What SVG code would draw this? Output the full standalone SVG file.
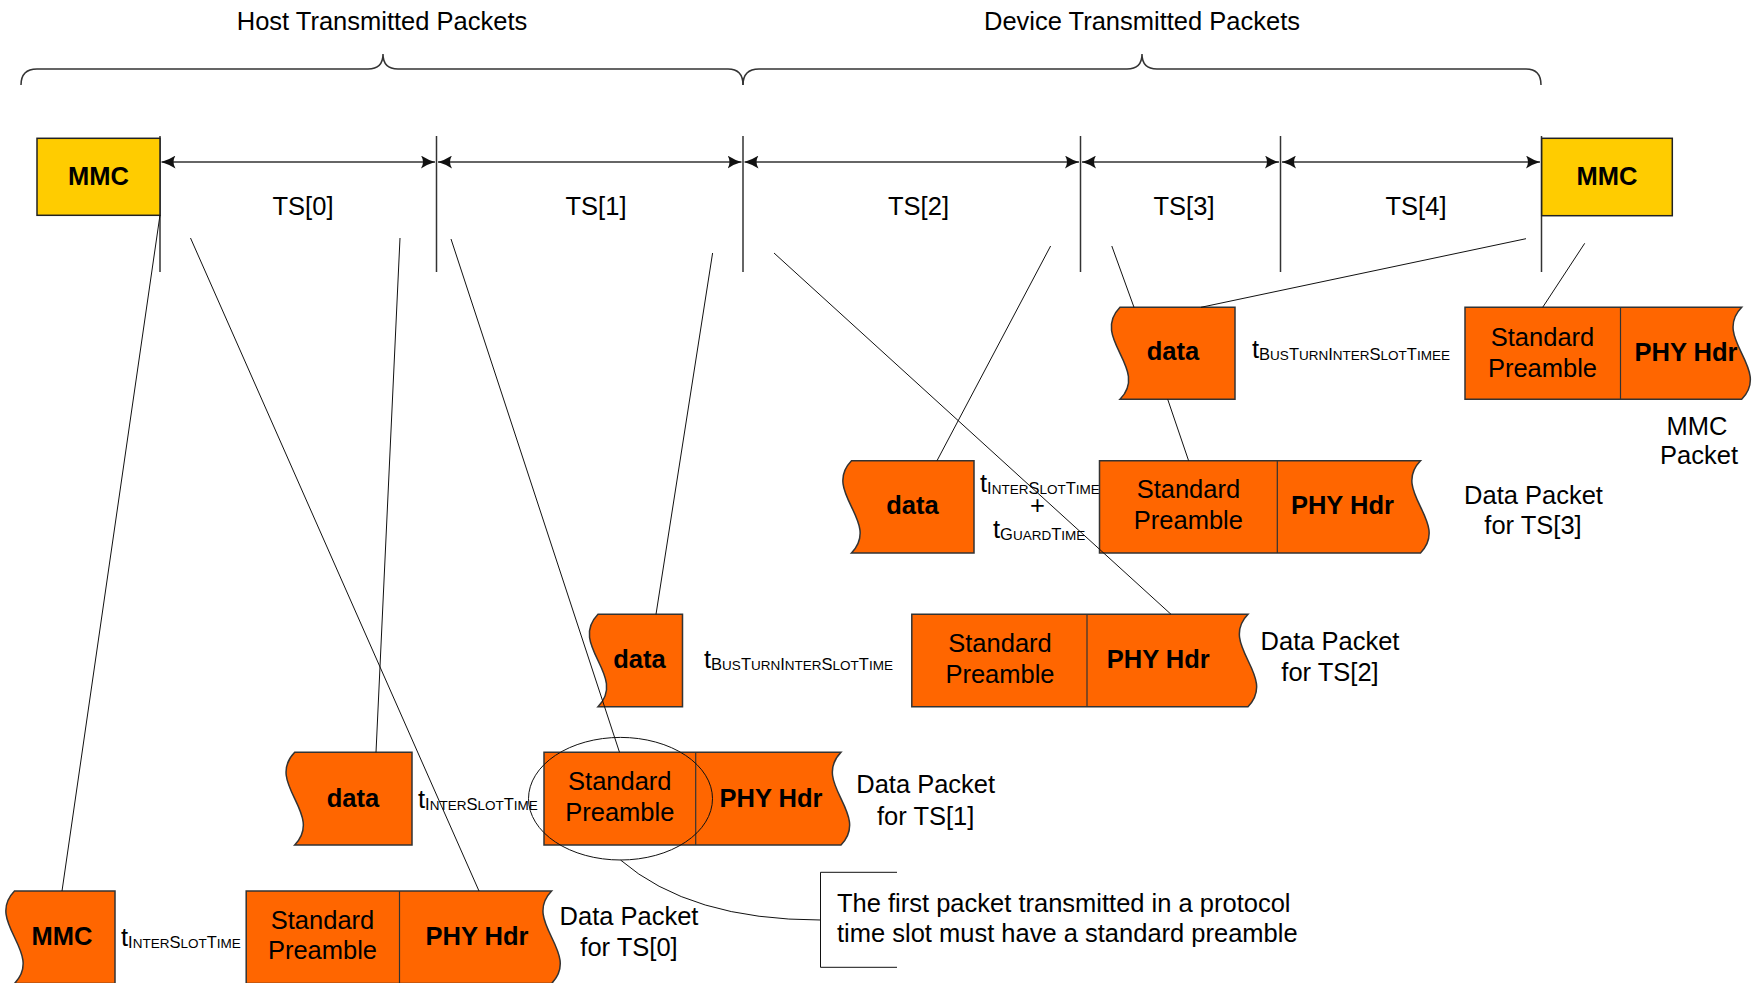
<svg xmlns="http://www.w3.org/2000/svg" width="1755" height="983" viewBox="0 0 1755 983">
<defs>
<style>
text{font-family:"Liberation Sans",Arial,sans-serif;fill:#000}
.n{font-size:25.5px}
.b{font-size:25.5px;font-weight:bold}
.m{text-anchor:middle}
.cb{font-size:16.5px}
.cs{font-size:13.5px}
.pk{fill:#FF6600;stroke:#333;stroke-width:1.5}
.mmc{fill:#FFCC00;stroke:#222;stroke-width:1.5}
.dv{stroke:#333;stroke-width:1.2;fill:none}
.tick{stroke:#333;stroke-width:1.5;fill:none}
.arr{stroke:#333;stroke-width:1.5;fill:none;marker-start:url(#ah);marker-end:url(#ah)}
.br{stroke:#333;stroke-width:1.5;fill:none}
.cn{stroke:#111;stroke-width:1;fill:none}
</style>
<marker id="ah" viewBox="0 0 14 13" refX="14" refY="6.5" markerWidth="14" markerHeight="13" markerUnits="userSpaceOnUse" orient="auto-start-reverse">
<path d="M14,6.5 Q7,4.5 0,0 Q4,6.5 0,13 Q7,8.5 14,6.5 Z" fill="#111"/>
</marker>
</defs>
<rect width="1755" height="983" fill="#fff"/>

<g id="headers">
<text class="n m" x="382" y="29.5">Host Transmitted Packets</text>
<text class="n m" x="1142" y="29.5">Device Transmitted Packets</text>
<path class="br" d="M21,85 Q21,69 37,69 L368,69 Q383,69 383,54 Q383,69 398,69 L728,69 Q743,69 743,85"/>
<path class="br" d="M743,85 Q743,69 759,69 L1127,69 Q1142,69 1142,54 Q1142,69 1157,69 L1526,69 Q1541,69 1541,85"/>
</g>

<g id="timeline">
<line class="tick" x1="160" y1="136" x2="160" y2="272"/>
<line class="tick" x1="436.5" y1="136" x2="436.5" y2="272"/>
<line class="tick" x1="743" y1="136" x2="743" y2="272"/>
<line class="tick" x1="1080.5" y1="136" x2="1080.5" y2="272"/>
<line class="tick" x1="1280.5" y1="136" x2="1280.5" y2="272"/>
<line class="tick" x1="1541.5" y1="136" x2="1541.5" y2="272"/>
<line class="arr" x1="161.5" y1="162" x2="435" y2="162"/>
<line class="arr" x1="438" y1="162" x2="741.5" y2="162"/>
<line class="arr" x1="744.5" y1="162" x2="1079" y2="162"/>
<line class="arr" x1="1082" y1="162" x2="1279" y2="162"/>
<line class="arr" x1="1282" y1="162" x2="1540" y2="162"/>
<text class="n m" x="303" y="215">TS[0]</text>
<text class="n m" x="596" y="215">TS[1]</text>
<text class="n m" x="918.5" y="215">TS[2]</text>
<text class="n m" x="1184" y="215">TS[3]</text>
<text class="n m" x="1416" y="215">TS[4]</text>
</g>

<g id="mmc-top-left">
<rect class="mmc" x="37" y="138.3" width="123" height="77"/>
<text class="b m" x="98.5" y="185">MMC</text>
</g>
<g id="mmc-top-right">
<rect class="mmc" x="1541.7" y="138.3" width="130.6" height="77.4"/>
<text class="b m" x="1607" y="185">MMC</text>
</g>

<g id="ts0-mmc">
<path class="pk" d="M14.5,891 H115 V983.5 H14.5 C44.5,952.7 -15.5,921.8 14.5,891 Z"/>
<text class="b m" x="62" y="945">MMC</text>
</g>
<g id="ts0-gap">
<text class="n" x="121" y="946">t<tspan class="cb" dy="2">I</tspan><tspan class="cs">NTER</tspan><tspan class="cb">S</tspan><tspan class="cs">LOT</tspan><tspan class="cb">T</tspan><tspan class="cs">IME</tspan></text>
</g>
<g id="ts0-packet">
<path class="pk" d="M246.2,891 H551.6 C521.6,921.8 581.6,952.7 551.6,983.5 H246.2 Z"/>
<line class="dv" x1="399.5" y1="891" x2="399.5" y2="983.5"/>
<text class="n m" x="322.5" y="928.5">Standard</text>
<text class="n m" x="322.5" y="959">Preamble</text>
<text class="b m" x="477" y="945">PHY Hdr</text>
<text class="n m" x="629" y="925">Data Packet</text>
<text class="n m" x="629" y="956">for TS[0]</text>
</g>

<g id="ts1-data">
<path class="pk" d="M294.7,752.3 H412 V845 H294.7 C324.7,814.1 264.7,783.2 294.7,752.3 Z"/>
<text class="b m" x="353" y="806.7">data</text>
</g>
<g id="ts1-gap">
<text class="n" x="418" y="808">t<tspan class="cb" dy="2">I</tspan><tspan class="cs">NTER</tspan><tspan class="cb">S</tspan><tspan class="cs">LOT</tspan><tspan class="cb">T</tspan><tspan class="cs">IME</tspan></text>
</g>
<g id="ts1-packet">
<path class="pk" d="M544,752.3 H841 C811,783.2 871,814.1 841,845 H544 Z"/>
<line class="dv" x1="695.7" y1="752.3" x2="695.7" y2="845"/>
<text class="n m" x="619.8" y="790">Standard</text>
<text class="n m" x="619.8" y="820.7">Preamble</text>
<text class="b m" x="771" y="806.7">PHY Hdr</text>
<text class="n m" x="925.7" y="793.3">Data Packet</text>
<text class="n m" x="925.7" y="825">for TS[1]</text>
</g>

<g id="ts2-data">
<path class="pk" d="M598,614.3 H682.5 V706.7 H598 C628,675.9 568,645.1 598,614.3 Z"/>
<text class="b m" x="639.5" y="668.3">data</text>
</g>
<g id="ts2-gap">
<text class="n" x="704" y="668">t<tspan class="cb" dy="2">B</tspan><tspan class="cs">US</tspan><tspan class="cb">T</tspan><tspan class="cs">URN</tspan><tspan class="cb">I</tspan><tspan class="cs">NTER</tspan><tspan class="cb">S</tspan><tspan class="cs">LOT</tspan><tspan class="cb">T</tspan><tspan class="cs">IME</tspan></text>
</g>
<g id="ts2-packet">
<path class="pk" d="M911.8,614.3 H1248 C1218,645.1 1278,675.9 1248,706.7 H911.8 Z"/>
<line class="dv" x1="1087" y1="614.3" x2="1087" y2="706.7"/>
<text class="n m" x="1000" y="651.7">Standard</text>
<text class="n m" x="1000" y="683">Preamble</text>
<text class="b m" x="1158.3" y="668.3">PHY Hdr</text>
<text class="n m" x="1330" y="650">Data Packet</text>
<text class="n m" x="1330" y="681">for TS[2]</text>
</g>

<g id="ts3-data">
<path class="pk" d="M851.5,460.7 H974 V553 H851.5 C881.5,522.2 821.5,491.5 851.5,460.7 Z"/>
<text class="b m" x="912.4" y="514">data</text>
</g>
<g id="ts3-gap">
<text class="n" x="980" y="491.5">t<tspan class="cb" dy="2">I</tspan><tspan class="cs">NTER</tspan><tspan class="cb">S</tspan><tspan class="cs">LOT</tspan><tspan class="cb">T</tspan><tspan class="cs">IME</tspan></text>
<text class="n m" x="1037.5" y="514">+</text>
<text class="n" x="993" y="538">t<tspan class="cb" dy="2">G</tspan><tspan class="cs">UARD</tspan><tspan class="cb">T</tspan><tspan class="cs">IME</tspan></text>
</g>
<g id="ts3-packet">
<path class="pk" d="M1099.5,460.7 H1420.5 C1390.5,491.5 1450.5,522.2 1420.5,553 H1099.5 Z"/>
<line class="dv" x1="1277.3" y1="460.7" x2="1277.3" y2="553"/>
<text class="n m" x="1188.4" y="498.3">Standard</text>
<text class="n m" x="1188.4" y="529.3">Preamble</text>
<text class="b m" x="1342.4" y="514">PHY Hdr</text>
<text class="n m" x="1533.5" y="503.5">Data Packet</text>
<text class="n m" x="1533" y="534">for TS[3]</text>
</g>

<g id="ts4-data">
<path class="pk" d="M1120,307.3 H1235 V399.3 H1120 C1150,368.6 1090,338 1120,307.3 Z"/>
<text class="b m" x="1173" y="360">data</text>
</g>
<g id="ts4-gap">
<text class="n" x="1252" y="358">t<tspan class="cb" dy="2">B</tspan><tspan class="cs">US</tspan><tspan class="cb">T</tspan><tspan class="cs">URN</tspan><tspan class="cb">I</tspan><tspan class="cs">NTER</tspan><tspan class="cb">S</tspan><tspan class="cs">LOT</tspan><tspan class="cb">T</tspan><tspan class="cs">IMEE</tspan></text>
</g>
<g id="mmc-packet">
<path class="pk" d="M1465,307.3 H1741.7 C1711.7,338 1771.7,368.6 1741.7,399.3 H1465 Z"/>
<line class="dv" x1="1620.5" y1="307.3" x2="1620.5" y2="399.3"/>
<text class="n m" x="1542.5" y="346">Standard</text>
<text class="n m" x="1542.5" y="376.7">Preamble</text>
<text class="b m" x="1686" y="360.7">PHY Hdr</text>
<text class="n m" x="1697" y="435">MMC</text>
<text class="n m" x="1699" y="464">Packet</text>
</g>

<g id="connectors">
<line class="cn" x1="160" y1="215" x2="62" y2="891"/>
<line class="cn" x1="190.5" y1="238" x2="479" y2="891"/>
<line class="cn" x1="400" y1="238" x2="376" y2="752.3"/>
<line class="cn" x1="451" y1="239" x2="619.5" y2="752.3"/>
<line class="cn" x1="712.6" y1="253" x2="656" y2="614.3"/>
<line class="cn" x1="774" y1="253" x2="1171" y2="614.3"/>
<line class="cn" x1="1050.6" y1="246" x2="937" y2="460.7"/>
<line class="cn" x1="1111.8" y1="246" x2="1134" y2="307.3"/>
<line class="cn" x1="1526" y1="238.7" x2="1201" y2="307.3"/>
<line class="cn" x1="1167.7" y1="399.3" x2="1188.6" y2="460.7"/>
<line class="cn" x1="1584.7" y1="243.3" x2="1542.7" y2="307.3"/>
</g>

<g id="callout">
<ellipse class="cn" cx="620.5" cy="798.7" rx="92" ry="61.3"/>
<path class="cn" d="M620.5,860 Q690,920 820.5,920"/>
<path class="cn" d="M897,872.3 H820.5 V967.3 H897"/>
<text class="n" x="837" y="911.5">The first packet transmitted in a protocol</text>
<text class="n" x="837" y="941.5">time slot must have a standard preamble</text>
</g>
</svg>
